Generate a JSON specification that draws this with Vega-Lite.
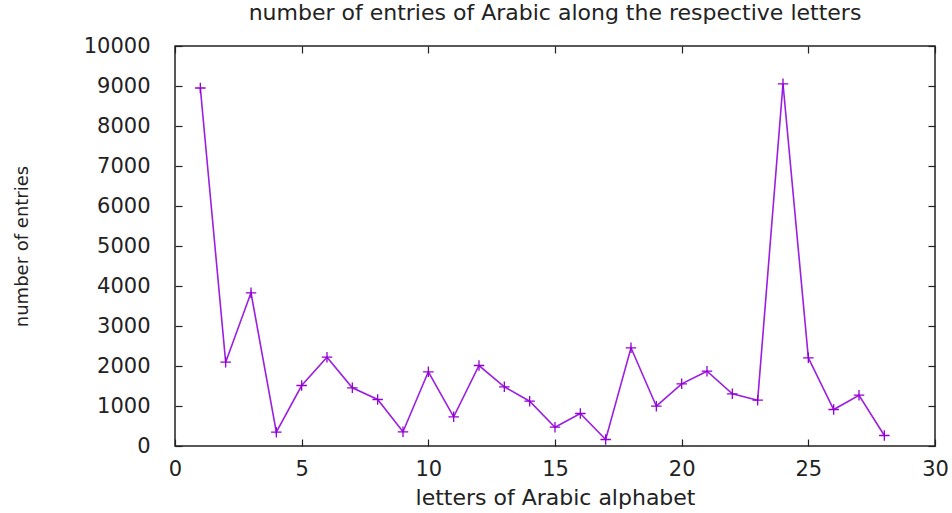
{
  "$schema": "https://vega.github.io/schema/vega-lite/v6.json",
  "width": 760,
  "height": 400,
  "autosize": {"type": "none"},
  "padding": {"left": 175, "top": 46, "right": 17, "bottom": 67},
  "background": "white",
  "config": {
    "view": {"stroke": "#222", "strokeWidth": 1.5},
    "font": "DejaVu Sans",
    "axis": {"grid": false, "domain": false, "tickColor": "#222", "tickWidth": 1.2, "tickSize": -7, "labelColor": "#222", "titleColor": "#222", "labelFont": "DejaVu Sans", "titleFont": "DejaVu Sans", "titleFontWeight": "normal", "labelFontSize": 21, "titleFontSize": 22, "labelFlush": false, "labelOverlap": false}
  },
  "title": {"text": "number of entries of Arabic along the respective letters", "font": "DejaVu Sans", "fontSize": 22, "fontWeight": "normal", "color": "#222", "anchor": "middle", "offset": 10},
  "data": {"values": [
    {"letter": 1, "entries": 8950},
    {"letter": 2, "entries": 2095},
    {"letter": 3, "entries": 3830},
    {"letter": 4, "entries": 345},
    {"letter": 5, "entries": 1512},
    {"letter": 6, "entries": 2220},
    {"letter": 7, "entries": 1455},
    {"letter": 8, "entries": 1162},
    {"letter": 9, "entries": 355},
    {"letter": 10, "entries": 1855},
    {"letter": 11, "entries": 730},
    {"letter": 12, "entries": 2012},
    {"letter": 13, "entries": 1480},
    {"letter": 14, "entries": 1120},
    {"letter": 15, "entries": 470},
    {"letter": 16, "entries": 812},
    {"letter": 17, "entries": 162},
    {"letter": 18, "entries": 2455},
    {"letter": 19, "entries": 995},
    {"letter": 20, "entries": 1555},
    {"letter": 21, "entries": 1870},
    {"letter": 22, "entries": 1305},
    {"letter": 23, "entries": 1145},
    {"letter": 24, "entries": 9055},
    {"letter": 25, "entries": 2205},
    {"letter": 26, "entries": 912},
    {"letter": 27, "entries": 1270},
    {"letter": 28, "entries": 262}
  ]},
  "layer": [
    {
      "mark": {"type": "line", "color": "#9C1EE0", "strokeWidth": 1.6, "point": {"shape": "M-1,0L1,0M0,-1L0,1", "filled": false, "stroke": "#9400D3", "strokeWidth": 1.3, "size": 110}},
      "encoding": {
        "x": {"field": "letter", "type": "quantitative", "scale": {"domain": [0, 30], "nice": false, "zero": false},
              "axis": {"orient": "bottom", "values": [0, 5, 10, 15, 20, 25, 30], "labelPadding": 19, "title": "letters of Arabic alphabet", "titleY": 51, "titleBaseline": "middle"}},
        "y": {"field": "entries", "type": "quantitative", "scale": {"domain": [0, 10000], "nice": false},
              "axis": {"orient": "left", "values": [0, 1000, 2000, 3000, 4000, 5000, 6000, 7000, 8000, 9000, 10000], "format": "d", "labelPadding": 32, "title": "number of entries", "titleFontSize": 18, "titleX": -153, "titleBaseline": "middle"}}
      }
    },
    {
      "mark": {"type": "line", "opacity": 0},
      "encoding": {
        "x": {"field": "letter", "type": "quantitative", "axis": {"orient": "top", "values": [0, 5, 10, 15, 20, 25, 30], "labels": false, "title": null}},
        "y": {"field": "entries", "type": "quantitative", "axis": {"orient": "right", "values": [0, 1000, 2000, 3000, 4000, 5000, 6000, 7000, 8000, 9000, 10000], "labels": false, "title": null}}
      }
    }
  ],
  "resolve": {"axis": {"x": "independent", "y": "independent"}}
}
